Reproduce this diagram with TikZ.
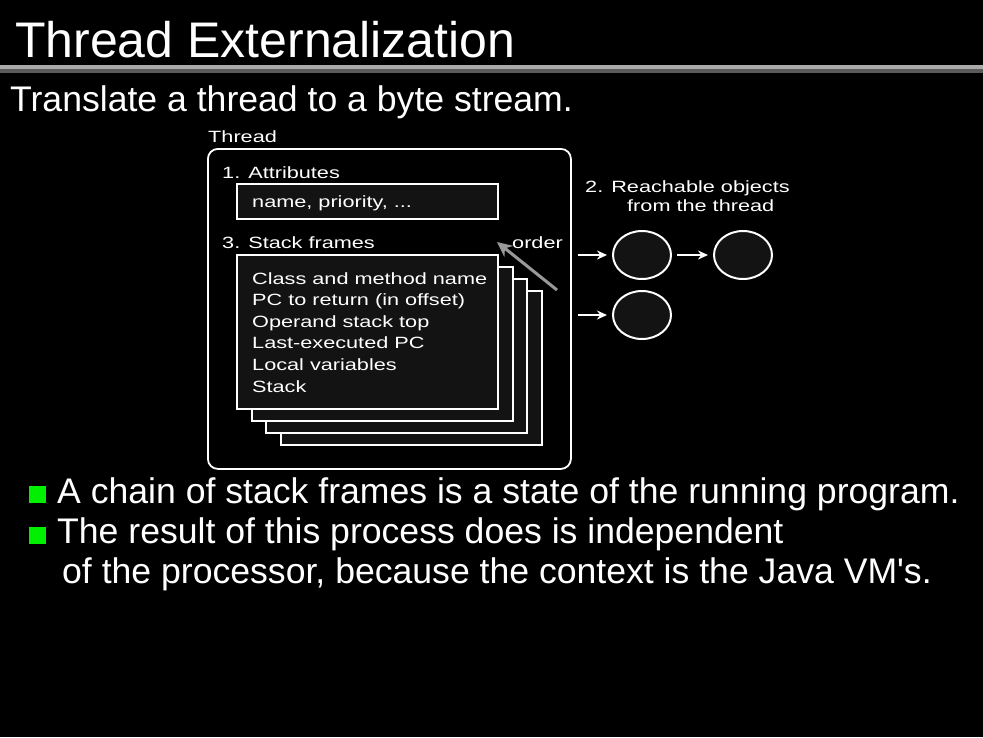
\documentclass[tikz,border=0pt]{standalone}
\usepackage{fontspec}
\newfontfamily\slidefont{Liberation Sans}
\newfontfamily\diagfont{Liberation Sans}[FakeStretch=1.33]
\usetikzlibrary{shapes.geometric,arrows.meta}
\definecolor{boxfill}{RGB}{18,19,18}
\definecolor{rulelight}{RGB}{170,170,170}
\definecolor{ruledark}{RGB}{90,90,90}
\definecolor{bulletgreen}{RGB}{0,240,0}
\tikzset{
	slidetext/.style={anchor=base west,inner sep=0pt,text=white,font=\slidefont\fontsize{35.6}{42}\selectfont},
	difftext/.style={anchor=base west,inner sep=0pt,text=white,font=\diagfont\fontsize{16.3}{19}\selectfont},
	framebox/.style={draw=white,line width=1.8pt,fill=boxfill,anchor=north west,inner sep=0pt},
	objnode/.style={ellipse,draw=white,line width=2pt,fill=boxfill,minimum width=58,minimum height=48,inner sep=0pt},
	ptr/.style={white,line width=1.8pt,-{Stealth[length=10pt,width=9pt]}},
}
\begin{document}
\begin{tikzpicture}[x=1pt,y=-1pt]
	\useasboundingbox[fill=black] (0,0) rectangle (983,737);
	% title and rule
	\node[slidetext,font=\slidefont\fontsize{50}{60}\selectfont] (title) at (15,57) {Thread Externalization};
	\fill[rulelight] (0,65) rectangle (983,69);
	\fill[ruledark] (0,69) rectangle (983,73);
	\node[slidetext] (subtitle) at (10,111) {Translate a thread to a byte stream.};
	% thread box
	\node[difftext] (threadlbl) at (208,142) {Thread};
	\node[framebox,fill=black,rounded corners=10pt,minimum width=363,minimum height=320] (thread) at (207,148) {};
	\node[difftext] (attrlbl) at (222,178) {1. Attributes};
	\node[framebox,minimum width=261,minimum height=35] (attr) at (236,183) {};
	\node[difftext] (attrtxt) at (252,207) {name, priority, ...};
	\node[difftext] (stacklbl) at (222,248) {3. Stack frames};
	\node[difftext] (orderlbl) at (512,248) {order};
	% stack frames, back to front
	\foreach \i in {3,2,1,0}{
		\node[framebox,minimum width=261,minimum height=154] (frame\i) at (236+14.7*\i,254+12*\i) {};
	}
	\foreach \txt [count=\i from 0] in {Class and method name,PC to return (in offset),Operand stack top,Last-executed PC,Local variables,Stack}{
		\node[difftext] (line\i) at (252,284+21.6*\i) {\txt};
	}
	\coordinate (ordertail) at (557,290);
	\coordinate (orderhead) at (497,242);
	\draw[gray!80,line width=3pt,-{Stealth[length=15pt,width=14pt]}] (ordertail) -- (orderhead);
	% reachable objects
	\node[difftext] (reachlbl) at (585,192) {2. Reachable objects};
	\node[difftext] (reachlbl2) at (627,211) {from the thread};
	\node[objnode] (obj1) at (642,255) {};
	\node[objnode] (obj2) at (743,255) {};
	\node[objnode] (obj3) at (642,315) {};
	\coordinate (ref1) at (578,255);
	\coordinate (ref2) at (578,315);
	\draw[ptr,shorten >=5pt] (ref1) -- (obj1);
	\draw[ptr,shorten <=5pt,shorten >=5pt] (obj1) -- (obj2);
	\draw[ptr,shorten >=5pt] (ref2) -- (obj3);
	% bullets
	\fill[bulletgreen] (29,486) rectangle (46,503);
	\fill[bulletgreen] (29,527) rectangle (46,544);
	\node[slidetext] (item1) at (57,503) {A chain of stack frames is a state of the running program.};
	\node[slidetext] (item2) at (57,543) {The result of this process does is independent};
	\node[slidetext] (item2b) at (62,583) {of the processor, because the context is the Java VM's.};
\end{tikzpicture}
\end{document}
